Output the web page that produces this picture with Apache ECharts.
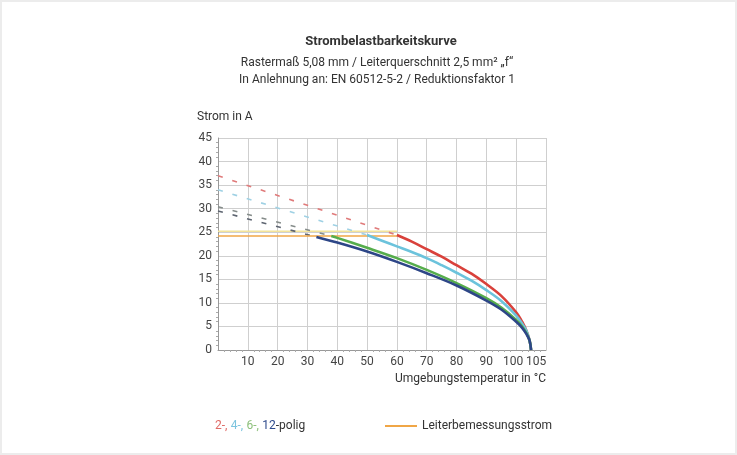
<!DOCTYPE html>
<html><head><meta charset="utf-8">
<script src="https://cdn.jsdelivr.net/npm/echarts@6/dist/echarts.min.js"></script>
<style>
html,body{margin:0;padding:0;background:#fff;}
#c{width:737px;height:455px;box-sizing:border-box;border:2px solid #ececec;}
</style></head>
<body><div id="c"></div>
<script>
// ---- data ----
const titleText = 'Strombelastbarkeitskurve';
const subLines = ['Rastermaß 5,08 mm / Leiterquerschnitt 2,5 mm² „f“', 'In Anlehnung an: EN 60512-5-2 / Reduktionsfaktor 1'];
const xTickLabels = [10, 20, 30, 40, 50, 60, 70, 80, 90, 100, 105];
const yTicks = [0, 5, 10, 15, 20, 25, 30, 35, 40, 45];

const pol2Solid = [[60,24.4],[65,23.0],[70,21.4],[75,19.8],[80,18.0],[85,16.2],[90,14.0],[95,11.5],[100,8.0],[102,6.0],[103.5,4.0],[104.5,2.0],[105,0]];
const pol4Solid = [[50,24.4],[55,23.2],[60,22.0],[65,20.8],[70,19.5],[75,18.0],[80,16.4],[85,14.7],[90,12.7],[95,10.4],[100,7.3],[102,5.6],[103.5,4.0],[104.5,2.0],[105,0]];
const pol6Solid = [[38,24.2],[40,23.8],[50,21.7],[60,19.5],[70,17.0],[80,14.2],[90,11.0],[95,9.0],[100,6.4],[102,5.0],[103.5,3.5],[104.5,2.0],[105,0]];
const pol12Solid = [[33,24.0],[40,22.8],[50,20.9],[60,18.7],[70,16.3],[80,13.7],[90,10.5],[95,8.6],[100,6.0],[102,4.7],[103.5,3.3],[104.5,2.0],[105,0]];
const pol2Dash = [[0,37.0],[60,24.4]];
const pol4Dash = [[0,34.0],[50,24.4]];
const pol6Dash = [[0,30.4],[38,24.2]];
const pol12Dash = [[0,29.5],[33,24.0]];
const ratedCurrent = [[0,24.2],[60,24.2]];
const ratedBand = [[0,25.2],[60,25.2]];

const FONT = 'Roboto,"Noto Sans",sans-serif';
const chart = echarts.init(document.getElementById('c'));

function solid(name, data, color) {
  return {name, type:'line', data, showSymbol:false, smooth:0.35,
    lineStyle:{color, width:2.6}, z:5, silent:true};
}
function dash(name, data, color) {
  return {name, type:'line', data, showSymbol:false,
    lineStyle:{color, width:1.6, type:[5,10]}, z:3, silent:true};
}

chart.setOption({
  animation:false,
  textStyle:{fontFamily:FONT},
  title:[
    {text:titleText, left:374, top:28, textAlign:'center',
     textStyle:{fontFamily:FONT, fontSize:13, fontWeight:'bold', color:'#333'}},
    {text:subLines.join('\n'), left:370, top:47, textAlign:'center',
     textStyle:{fontFamily:FONT, fontSize:12, fontWeight:'normal', color:'#333', lineHeight:17}}
  ],
  grid:{left:216, right:189, top:136, bottom:103},
  xAxis:{
    type:'value', min:0, max:110, interval:10,
    name:'Umgebungstemperatur in °C', nameLocation:'end',
    nameTextStyle:{fontFamily:FONT, fontSize:12, color:'#333', align:'right', verticalAlign:'top', padding:[23,0,0,0]},
    nameGap:0,
    axisLine:{show:true, lineStyle:{color:'#999', width:1}},
    axisTick:{show:false},
    minorTick:{show:true, splitNumber:5, length:2, lineStyle:{color:'#aaa'}},
    axisLabel:{customValues:xTickLabels, hideOverlap:false, showMaxLabel:true, fontFamily:FONT, fontSize:12, color:'#444', margin:6,
      formatter:function(v){ if(v===100) return '{l|100}'; if(v===105) return '{r|105}'; return String(v); },
      rich:{l:{fontFamily:FONT,fontSize:12,color:'#444',padding:[0,6,0,0]}, r:{fontFamily:FONT,fontSize:12,color:'#444',padding:[0,0,0,10]}}},
    splitLine:{show:true, lineStyle:{color:'#cfcfcf', width:1}}
  },
  yAxis:{
    type:'value', min:0, max:45, interval:5,
    name:'Strom in A', nameLocation:'end', nameGap:15,
    nameTextStyle:{fontFamily:FONT, fontSize:12, color:'#333', align:'left', padding:[0,0,0,-21]},
    axisLine:{show:true, lineStyle:{color:'#999', width:1}},
    axisTick:{show:false},
    minorTick:{show:true, splitNumber:5, length:2, lineStyle:{color:'#aaa'}},
    axisLabel:{fontFamily:FONT, fontSize:12, color:'#444', margin:6},
    splitLine:{show:true, lineStyle:{color:'#cfcfcf', width:1}}
  },
  legend:{
    data:[{name:'Leiterbemessungsstrom', icon:'rect'}],
    left:383, top:418, padding:0, itemWidth:32, itemHeight:2, itemGap:5,
    textStyle:{fontFamily:FONT, fontSize:12, color:'#333'}
  },
  graphic:[{
    type:'text', left:213, top:418,
    style:{
      text:'{a|2-,} {b|4-,} {c|6-,} {d|12}{e|-polig}',
      rich:{
        a:{fill:'#e06a66', fontFamily:FONT, fontSize:12},
        b:{fill:'#7cc4de', fontFamily:FONT, fontSize:12},
        c:{fill:'#8cc07a', fontFamily:FONT, fontSize:12},
        d:{fill:'#2e4a8c', fontFamily:FONT, fontSize:12},
        e:{fill:'#333', fontFamily:FONT, fontSize:12}
      }
    }
  }],
  series:[
    {name:'band', type:'line', data:ratedBand, showSymbol:false, silent:true,
     lineStyle:{color:'#f2e49a', width:1.5}, z:2},
    {name:'Leiterbemessungsstrom', type:'line', data:ratedCurrent, showSymbol:false, silent:true,
     lineStyle:{color:'#f0a646', width:1.5}, itemStyle:{color:'#f0a646'}, z:4},
    dash('2-polig extrapoliert', pol2Dash, '#e07a7a'),
    dash('4-polig extrapoliert', pol4Dash, '#9fd1e4'),
    dash('6-polig extrapoliert', pol6Dash, '#858c8a'),
    dash('12-polig extrapoliert', pol12Dash, '#5d6470'),
    solid('2-polig', pol2Solid, '#d9413b'),
    solid('4-polig', pol4Solid, '#6cc3dc'),
    solid('6-polig', pol6Solid, '#56ad4c'),
    solid('12-polig', pol12Solid, '#2d4687')
  ]
});
</script></body></html>
